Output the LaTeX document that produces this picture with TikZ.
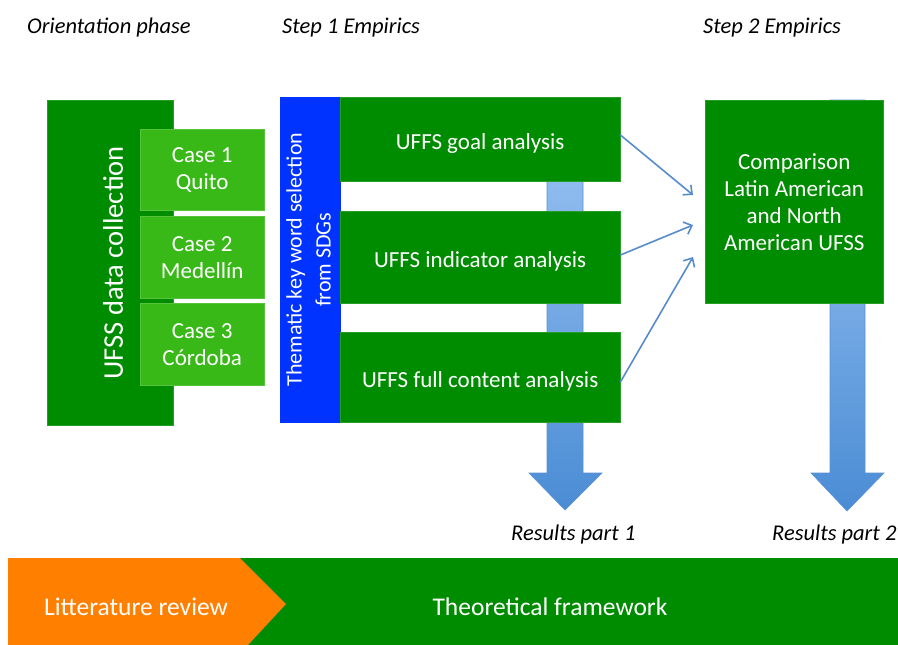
\documentclass[tikz,border=0pt]{standalone}
\usepackage{fontspec}
\setmainfont{Carlito}
\usetikzlibrary{arrows.meta}
\definecolor{dgreen}{RGB}{0,140,0}
\definecolor{lgreen}{RGB}{56,185,24}
\definecolor{kwblue}{RGB}{0,51,255}
\definecolor{lorange}{RGB}{255,127,0}
\definecolor{arrowtop}{RGB}{160,199,245}
\definecolor{arrowbot}{RGB}{74,140,212}
\definecolor{arrowline}{RGB}{90,145,210}
\definecolor{linkblue}{RGB}{86,140,204}
\begin{document}
\begin{tikzpicture}[x=1pt,y=-1pt,
  box/.style={fill=dgreen, draw=dgreen!85!white, line width=0.4pt, text=white,
    inner sep=0pt, anchor=north west, align=center,
    font=\fontsize{23}{27}\selectfont,
    execute at begin node=\rule{0pt}{24pt}},
  multibox/.style={box, execute at begin node=\rule{0pt}{30pt}},
  casebox/.style={multibox, fill=lgreen, draw=lgreen!85!white},
  kwbox/.style={box, fill=kwblue, draw=kwblue},
  phase/.style={font=\fontsize{22.5}{26}\selectfont\itshape, anchor=west, inner sep=0pt},
  result/.style={font=\fontsize{22.5}{26}\selectfont\itshape, anchor=west, inner sep=0pt},
  fat/.style={top color=arrowtop, bottom color=arrowbot, draw=arrowline, line width=0.6pt},
  link/.style={draw=linkblue, line width=1.6pt, -{Straight Barb[length=7pt,width=13pt,line width=1.6pt]}},
  band/.style={text=white, font=\fontsize{25.5}{30}\selectfont, inner sep=0pt}
]
\useasboundingbox (0,0) rectangle (898,645);

% phase headings
\node[phase] (hOrient) at (27,28) {Orientation phase};
\node[phase] (hStep1) at (282,28) {Step 1 Empirics};
\node[phase] (hStep2) at (703,28) {Step 2 Empirics};

% wide result arrows, drawn first so the boxes sit on top
\shade[fat] (547,98) -- (583,98) -- (583,473) -- (602,473) -- (565,510)
  -- (529,473) -- (547,473) -- cycle;
\shade[fat] (830,100) -- (865,100) -- (865,473) -- (884,473) -- (847,511)
  -- (811,473) -- (830,473) -- cycle;

% orientation phase
\node[box, minimum width=126pt, minimum height=325pt] (collect) at (47,100)
  {\hspace*{6pt}\rotatebox{90}{\fontsize{28.5}{32}\selectfont UFSS data collection}};
\node[casebox, minimum width=124pt, minimum height=81pt] (case1) at (140,129)
  {Case 1\\Quito};
\node[casebox, minimum width=124pt, minimum height=82pt] (case2) at (140,216)
  {Case 2\\Medellín};
\node[casebox, minimum width=124pt, minimum height=82pt] (case3) at (140,303)
  {Case 3\\Córdoba};

% step 1
\node[kwbox, minimum width=60pt, minimum height=325pt] (keywords) at (280,97)
  {\rotatebox{90}{\fontsize{22}{29}\selectfont\begin{tabular}{@{}c@{}}Thematic key word selection\\ from SDGs\end{tabular}}};
\node[box, minimum width=280pt, minimum height=84pt] (goal) at (340,97)
  {UFFS goal analysis};
\node[box, minimum width=280pt, minimum height=92pt] (indic) at (340,211)
  {UFFS indicator analysis};
\node[box, minimum width=280pt, minimum height=90pt] (full) at (340,332)
  {UFFS full content analysis};

% step 2
\node[multibox, minimum width=178pt, minimum height=203pt] (compare) at (705,100)
  {Comparison\\Latin American\\and North\\American UFSS};

% links into the comparison
\coordinate (in1) at (693,195);
\coordinate (in2) at (693,225);
\coordinate (in3) at (693,257);
\draw[link] (goal.east |- 0,135) -- (in1);
\draw[link] (indic.east |- 0,255) -- (in2);
\draw[link] (full.east |- 0,382) -- (in3);

% result labels
\node[result] (res1) at (511,534) {Results part 1};
\node[result] (res2) at (772,534) {Results part 2};

% bottom band
\fill[dgreen] (240,558) rectangle (898,645);
\fill[lorange] (8,558) -- (240,558) -- (286,604) -- (248,645) -- (8,645) -- cycle;
\node[band] (lit) at (136,607) {Litterature review};
\node[band] (theory) at (550,607) {Theoretical framework};
\end{tikzpicture}
\end{document}
